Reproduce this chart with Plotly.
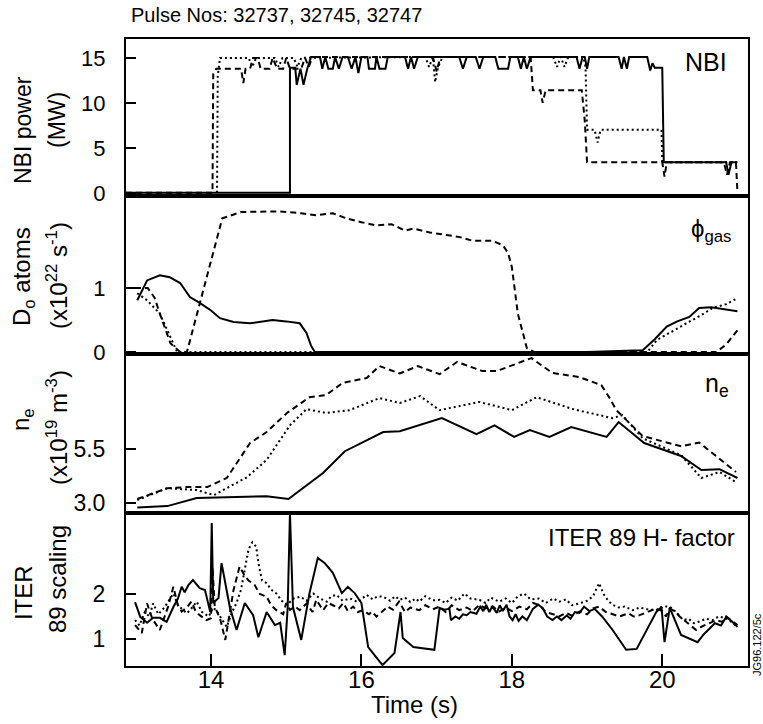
import plotly.graph_objects as go

# ---------------- DATA ----------------
# Panel 1: NBI power (MW)
nbi_solid = [(12.87,0),(15.05,0),(15.05,13.9),(15.12,13.9),(15.14,12.0),(15.19,13.8),(15.23,12.0),(15.28,13.8),
             (15.33,15.1),(15.45,15.1),(15.48,13.8),(15.52,15.1),(15.56,13.8),(15.62,13.8),(15.65,15.1),(15.7,13.8),
             (15.75,15.1),(15.82,15.1),(15.87,13.8),(15.92,15.1),(15.96,13.3),(16.0,15.1),(16.08,15.1),(16.1,13.8),
             (16.18,13.8),(16.2,15.1),(16.24,13.8),(16.32,13.8),(16.35,15.1),(16.58,15.1),(16.62,13.8),(16.66,15.1),
             (16.7,13.8),(16.75,15.1),(17.3,15.1),(17.35,13.8),(17.4,15.1),(17.52,15.1),(17.57,13.8),(17.62,15.1),
             (17.78,15.1),(17.82,13.8),(17.95,13.8),(17.98,15.1),(18.08,15.1),(18.12,13.8),(18.16,15.1),(18.2,13.8),
             (18.25,15.1),(18.86,15.1),(18.9,13.8),(18.94,15.1),(18.97,15.1),(19.0,13.8),(19.03,15.1),(19.42,15.1),
             (19.46,13.8),(19.49,15.1),(19.53,13.8),(19.56,15.1),(19.8,15.1),(19.84,13.6),(19.87,14.4),(19.9,13.9),
             (20.0,13.9),(20.02,3.4),(20.85,3.4),(20.88,2.0),(20.92,3.4),(21.0,3.4)]
nbi_dashed = [(12.87,0),(14.02,0),(14.03,13.2),(14.07,13.8),(14.4,13.8),(14.43,12.2),(14.46,13.8),(14.52,13.8),
              (14.56,15.0),(14.62,15.0),(14.66,13.8),(14.78,13.8),(14.82,15.0),(14.88,13.8),(14.96,13.8),(15.0,15.0),
              (15.05,13.8),(15.2,13.8),(15.25,15.0),(15.3,14.0),(15.35,15.1),(16.95,15.1),(17.0,13.5),(17.05,15.1),
              (18.25,15.1),(18.28,11.4),(18.38,11.4),(18.41,10.0),(18.45,11.4),(18.93,11.4),(18.97,8.0),(19.0,3.4),
              (20.0,3.4),(20.03,1.8),(20.06,3.4),(20.82,3.4),(20.86,2.0),(20.9,3.4),(20.98,3.4),(21.0,0)]
nbi_dotted = [(14.08,0),(14.09,13.0),(14.12,15.0),(14.5,15.0),(14.55,14.0),(14.6,15.0),(14.85,15.0),(14.9,14.0),
              (14.95,15.0),(15.1,15.0),(15.15,14.0),(15.2,15.0),(16.85,15.1),(16.9,14.0),(16.95,15.1),(16.98,12.3),
              (17.02,14.0),(17.08,15.1),(18.55,15.1),(18.6,14.0),(18.65,15.1),(18.7,14.0),(18.75,15.1),(18.95,15.1),
              (18.98,14.0),(19.0,7.0),(19.1,7.0),(19.14,5.6),(19.18,7.0),(19.99,7.0),(20.0,3.4),(21.0,3.4)]

# Panel 2: D0 gas fuelling (1e22 /s)
gas_solid_t = [13.02,13.15,13.32,13.45,13.59,13.72,13.85,14.0,14.12,14.3,14.52,14.82,15.0,15.18,15.27,15.33,15.38,
               16.0,17.0,18.0,19.0,19.74,19.9,20.06,20.2,20.36,20.49,20.65,20.8,21.0]
gas_solid_v = [0.81,1.12,1.2,1.17,1.08,0.86,0.77,0.65,0.53,0.47,0.45,0.5,0.48,0.45,0.3,0.1,0.0,
               0,0,0,0,0.03,0.2,0.4,0.48,0.55,0.69,0.7,0.67,0.64]
gas_dashed_t = [12.99,13.16,13.25,13.32,13.46,13.59,13.68,14.15,14.4,14.9,15.2,15.4,15.62,15.8,16.0,16.2,16.4,16.58,
                16.69,16.91,17.13,17.3,17.48,17.74,17.88,17.95,18.0,18.08,18.2,18.3,19.0,20.0,20.72,20.85,21.0]
gas_dashed_v = [1.0,1.0,0.85,0.6,0.14,0,0,2.09,2.19,2.2,2.17,2.14,2.17,2.09,2.03,1.98,2.0,1.9,
                1.93,1.87,1.83,1.8,1.74,1.74,1.67,1.55,1.33,0.6,0.06,0,0,0,0,0.12,0.34]
gas_dotted_t = [13.02,13.15,13.32,13.46,13.55,15.0,17.0,19.0,19.8,19.93,20.1,20.23,20.4,20.55,20.67,20.85,20.98]
gas_dotted_v = [0.92,0.81,0.6,0.23,0,0,0,0,0,0.19,0.3,0.39,0.5,0.6,0.69,0.75,0.83]

# Panel 3: density (1e19 m^-3)
ne_solid_t = [13.02,13.42,13.81,14.3,14.74,15.03,15.49,15.78,16.29,16.51,17.07,17.53,17.77,18.03,18.24,18.5,18.79,
              19.26,19.42,19.76,20.25,20.52,20.76,21.0]
ne_solid_v = [2.8,2.86,3.23,3.28,3.32,3.19,4.39,5.4,6.29,6.33,6.93,6.19,6.6,6.06,6.38,6.06,6.52,
              6.06,6.75,5.78,5.18,4.53,4.57,4.16]
ne_dashed_t = [13.02,13.42,13.68,13.95,14.21,14.52,14.74,15.01,15.31,15.53,15.75,16.07,16.24,16.51,16.75,17.04,17.27,
               17.61,17.8,18.26,18.54,18.9,19.19,19.3,19.39,19.47,19.74,20.25,20.49,20.98]
ne_dashed_v = [3.19,3.69,3.74,3.74,4.16,5.78,6.29,7.17,7.9,8.0,8.56,8.79,9.34,9.0,9.34,8.97,9.53,
               9.11,9.11,9.71,9.02,8.83,8.46,7.86,7.3,7.03,6.1,5.63,5.8,4.44]
ne_dotted_t = [13.02,13.42,13.81,14.04,14.48,14.74,15.05,15.27,15.53,15.84,16.24,16.51,16.78,17.04,17.57,18.0,18.33,
               18.81,19.34,19.47,19.74,20.25,20.52,20.76,20.98]
ne_dotted_v = [3.14,3.69,3.6,3.37,4.2,5.0,6.6,7.35,7.17,7.3,7.86,7.63,7.95,7.3,7.68,7.3,7.9,
               7.35,6.93,7.07,6.0,5.22,4.16,4.44,3.97]

# Panel 4: ITER89 H-factor
h_solid = [(12.99,1.82),(13.06,1.49),(13.15,1.36),(13.23,1.47),(13.32,1.47),(13.41,1.38),(13.5,1.71),(13.56,1.9),
           (13.61,2.16),(13.65,2.04),(13.7,2.2),(13.76,2.31),(13.85,2.13),(13.92,2.09),(13.99,1.6),(14.01,3.58),
           (14.03,1.8),(14.1,1.91),(14.14,2.69),(14.25,1.71),(14.34,1.2),(14.45,1.8),(14.56,1.53),(14.63,1.04),
           (14.74,1.6),(14.85,1.31),(14.92,1.36),(14.98,0.64),(15.02,1.71),(15.05,3.8),(15.09,1.71),(15.2,0.98),
           (15.31,2.02),(15.42,2.8),(15.51,2.69),(15.62,2.47),(15.74,2.02),(15.82,2.16),(15.91,2.02),(16.0,1.8),
           (16.09,0.82),(16.28,0.42),(16.44,0.69),(16.52,1.6),(16.55,1.02),(16.69,0.82),(16.97,0.76),(17.04,1.69),
           (17.1,1.65),(17.17,1.67),(17.19,1.42),(17.25,1.5),(17.3,1.45),(17.35,1.55),(17.4,1.53),(17.45,1.6),
           (17.53,1.56),(17.58,1.72),(17.62,1.62),(17.66,1.76),(17.7,1.6),(17.74,1.72),(17.8,1.58),(17.84,1.75),
           (17.88,1.62),(17.93,1.76),(17.97,1.5),(18.01,1.42),(18.05,1.55),(18.09,1.4),(18.14,1.5),(18.2,1.42),
           (18.28,1.67),(18.35,1.76),(18.41,1.69),(18.47,1.5),(18.54,1.42),(18.6,1.5),(18.66,1.42),(18.73,1.52),
           (18.78,1.45),(18.84,1.6),(18.9,1.58),(18.96,1.72),(19.03,1.62),(19.1,1.67),(19.2,1.5),(19.34,1.2),
           (19.52,0.76),(19.66,0.78),(19.92,1.6),(19.99,1.71),(20.03,0.93),(20.1,1.69),(20.25,1.09),(20.47,0.93),
           (20.55,1.1),(20.63,1.24),(20.7,1.35),(20.78,1.3),(20.85,1.49),(20.92,1.4),(21.0,1.27)]
h_dashed = [(12.99,1.31),(13.08,1.13),(13.15,1.79),(13.22,1.45),(13.32,1.2),(13.43,1.72),(13.5,2.16),(13.56,1.75),
            (13.61,1.61),(13.68,1.7),(13.74,1.83),(13.8,1.6),(13.85,1.53),(13.94,1.42),(14.0,1.46),(14.02,2.6),
            (14.05,1.72),(14.12,1.46),(14.19,0.98),(14.25,1.6),(14.3,2.09),(14.38,2.61),(14.45,2.4),(14.5,2.3),
            (14.58,2.2),(14.65,2.0),(14.74,1.94),(14.8,1.75),(14.87,1.64),(14.96,1.55),(15.0,1.8),(15.05,1.65),
            (15.12,1.72),(15.18,1.64),(15.27,1.79),(15.35,1.6),(15.4,1.87),(15.49,1.64),(15.56,1.8),(15.62,1.75),
            (15.7,1.68),(15.76,1.8),(15.82,1.62),(15.89,1.72),(15.95,1.6),(16.02,1.64),(16.1,1.55),(16.14,1.61),
            (16.2,1.5),(16.27,1.6),(16.35,1.72),(16.42,1.65),(16.5,1.83),(16.58,1.6),(16.65,1.7),(16.77,1.64),
            (16.85,1.75),(16.95,1.66),(17.04,1.72),(17.12,1.6),(17.2,1.75),(17.3,1.64),(17.4,1.7),(17.48,1.62),
            (17.57,1.76),(17.65,1.68),(17.75,1.72),(17.83,1.61),(17.92,1.7),(18.0,1.62),(18.1,1.72),(18.2,1.66),
            (18.28,1.8),(18.36,1.76),(18.45,1.6),(18.55,1.55),(18.63,1.5),(18.72,1.58),(18.8,1.52),(18.9,1.61),
            (19.0,1.55),(19.08,1.68),(19.16,1.72),(19.25,1.6),(19.35,1.55),(19.43,1.5),(19.55,1.57),(19.62,1.5),
            (19.7,1.53),(19.8,1.6),(19.92,1.68),(20.0,1.62),(20.05,1.5),(20.1,1.68),(20.18,1.6),(20.23,1.5),
            (20.3,1.4),(20.38,1.3),(20.45,1.2),(20.53,1.28),(20.63,1.35),(20.72,1.42),(20.8,1.38),(20.85,1.5),
            (20.93,1.4),(21.0,1.31)]
h_dotted = [(12.99,1.42),(13.05,1.3),(13.12,1.6),(13.18,1.5),(13.23,1.79),(13.3,1.55),(13.38,1.7),(13.44,1.85),
            (13.5,2.01),(13.56,1.75),(13.62,1.65),(13.68,1.57),(13.75,1.7),(13.81,1.83),(13.88,1.6),(13.97,1.5),
            (14.03,1.7),(14.08,1.61),(14.14,1.45),(14.21,1.27),(14.28,1.6),(14.34,1.8),(14.4,2.1),(14.45,2.6),
            (14.5,3.0),(14.55,3.15),(14.6,3.05),(14.64,2.6),(14.68,2.3),(14.74,2.24),(14.8,2.1),(14.87,2.01),
            (14.94,1.85),(15.01,1.76),(15.1,1.9),(15.19,1.94),(15.27,1.85),(15.36,2.01),(15.45,1.9),(15.54,1.83),
            (15.6,1.95),(15.67,1.98),(15.75,1.85),(15.85,1.9),(15.95,1.82),(16.07,1.98),(16.15,1.88),(16.22,1.95),
            (16.29,1.94),(16.38,1.85),(16.45,1.95),(16.51,1.87),(16.58,1.92),(16.65,1.82),(16.72,1.9),(16.77,1.83),
            (16.85,1.95),(16.95,1.86),(17.04,1.87),(17.12,1.8),(17.2,1.92),(17.28,1.85),(17.37,2.01),(17.45,1.9),
            (17.57,1.87),(17.65,1.8),(17.72,1.92),(17.83,1.83),(17.92,1.9),(18.0,1.8),(18.08,1.95),(18.16,2.01),
            (18.25,1.88),(18.36,1.9),(18.45,1.8),(18.55,1.9),(18.63,1.83),(18.72,1.88),(18.8,1.75),(18.9,1.79),
            (19.0,1.85),(19.08,1.95),(19.16,2.24),(19.22,2.0),(19.28,1.85),(19.34,1.76),(19.42,1.7),(19.5,1.72),
            (19.61,1.64),(19.7,1.7),(19.8,1.66),(19.92,1.64),(20.0,1.72),(20.1,1.72),(20.18,1.6),(20.28,1.42),
            (20.35,1.45),(20.42,1.35),(20.5,1.39),(20.58,1.45),(20.67,1.42),(20.75,1.5),(20.85,1.46),(20.92,1.38),
            (21.0,1.27)]

x_ticks = [14, 16, 18, 20]

# ---------------- FIGURE ----------------
FONT = "Liberation Sans, Arial, Helvetica, sans-serif"
STYLES = {"solid": dict(color="black", width=2),
          "dash": dict(color="black", width=2, dash="6px,4px"),
          "dot": dict(color="black", width=2, dash="2px,3px")}

fig = go.Figure()

def add(xs, ys, style, panel):
    suffix = "" if panel == 1 else str(panel)
    fig.add_trace(go.Scatter(x=xs, y=ys, mode="lines", line=STYLES[style],
                             xaxis="x" + suffix, yaxis="y" + suffix,
                             showlegend=False, hoverinfo="skip"))

def addp(pairs, style, panel):
    add([p[0] for p in pairs], [p[1] for p in pairs], style, panel)

addp(nbi_dotted, "dot", 1)
addp(nbi_dashed, "dash", 1)
addp(nbi_solid, "solid", 1)
add(gas_dotted_t, gas_dotted_v, "dot", 2)
add(gas_dashed_t, gas_dashed_v, "dash", 2)
add(gas_solid_t, gas_solid_v, "solid", 2)
add(ne_dotted_t, ne_dotted_v, "dot", 3)
add(ne_dashed_t, ne_dashed_v, "dash", 3)
add(ne_solid_t, ne_solid_v, "solid", 3)
addp(h_dotted, "dot", 4)
addp(h_dashed, "dash", 4)
addp(h_solid, "solid", 4)

XR = [12.87, 21.14]
domains = {1: [0.7496, 1.0], 2: [0.4976, 0.7496], 3: [0.244, 0.4976], 4: [0.0, 0.244]}
yranges = {1: [-0.35, 17.1], 2: [-0.03, 2.44], 3: [2.54, 9.9], 4: [0.4, 3.8]}
yticks = {1: ([0, 5, 10, 15], ["0", "5", "10", "15"]),
          2: ([0, 1], ["0", "1"]),
          3: ([3.0, 5.5], ["3.0", "5.5"]),
          4: ([1, 2], ["1", "2"])}

layout = dict(width=763, height=724, margin=dict(l=126, r=15, t=39, b=58),
              paper_bgcolor="white", plot_bgcolor="white",
              font=dict(family=FONT, size=22, color="black"), showlegend=False)

for p in range(1, 5):
    s = "" if p == 1 else str(p)
    layout["xaxis" + s] = dict(range=XR, domain=[0, 1], anchor="y" + s,
                               showline=True, mirror=True, linecolor="black", linewidth=2,
                               showgrid=False, zeroline=False,
                               tickvals=x_ticks if p == 4 else [],
                               ticks="inside" if p == 4 else "", ticklen=12, tickwidth=1.5,
                               tickcolor="black", showticklabels=(p == 4),
                               ticklabelstandoff=-9,
                               tickfont=dict(size=24, family=FONT))
    layout["yaxis" + s] = dict(range=yranges[p], domain=domains[p], anchor="x" + s,
                               showline=True, mirror=True, linecolor="black", linewidth=2,
                               showgrid=False, zeroline=False,
                               tickvals=yticks[p][0], ticktext=yticks[p][1],
                               ticks="inside", ticklen=10, tickwidth=1.5, tickcolor="black",
                               ticklabelstandoff=14,
                               tickfont=dict(size=23 if p >= 3 else 22, family=FONT))
fig.update_layout(**layout)

def px(x):
    return (x - 126) / 622.0

def py(y):
    return (666 - y) / 627.0

ann = []
def label(text, x, y, size=24, angle=0, xanchor="center", yanchor="middle"):
    ann.append(dict(text=text, x=px(x), y=py(y), xref="paper", yref="paper", showarrow=False,
                    textangle=angle, xanchor=xanchor, yanchor=yanchor,
                    font=dict(size=size, family=FONT, color="black")))

label("Pulse Nos: 32737, 32745, 32747", 129, 15, size=20, xanchor="left")
label("NBI power", 23, 130, size=23, angle=-90)
label("(MW)", 57, 120, size=23, angle=-90)
label("D<sub>o</sub> atoms", 23, 277, angle=-90)
label("(x10<sup>22</sup> s<sup>-1</sup>)", 57, 276, angle=-90)
label("n<sub>e</sub>", 23, 420, angle=-90)
label("(x10<sup>19</sup> m<sup>-3</sup>)", 57, 428, angle=-90)
label("ITER", 23, 593, angle=-90)
label("89 scaling", 57, 579, angle=-90)
label("NBI", 729, 62, size=25, xanchor="right")
label("ϕ<sub>gas</sub>", 734, 230, size=24, xanchor="right")
label("n<sub>e</sub>", 731, 385, size=25, xanchor="right")
label("ITER 89 H- factor", 737, 537, size=24, xanchor="right")
label("Time (s)", 414, 704, size=24)
label("JG96.122/5c", 757, 645, size=11, angle=-90)
fig.update_layout(annotations=ann)

fig.write_html("out.html")
